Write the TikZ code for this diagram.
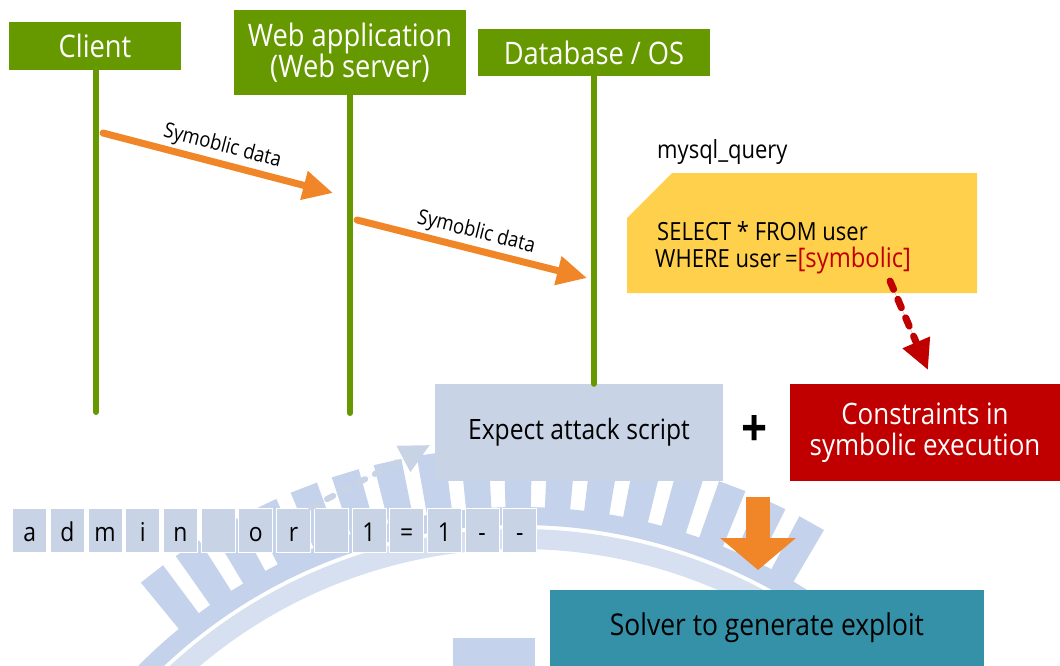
\documentclass[tikz,border=0pt]{standalone}
\usepackage{fontspec}
\setmainfont{Open Sans}[FakeStretch=0.88]
\usetikzlibrary{arrows.meta}

\definecolor{hdrgreen}{RGB}{102,153,0}
\definecolor{flow}{RGB}{240,134,40}
\definecolor{note}{RGB}{255,208,75}
\definecolor{darkred}{RGB}{192,0,0}
\definecolor{paleblue}{RGB}{200,212,230}
\definecolor{solverteal}{RGB}{53,145,168}
\definecolor{wmdark}{RGB}{196,210,235}
\definecolor{wmlight}{RGB}{214,224,241}

\newcommand\setfs[1]{\fontsize{#1}{#1}\selectfont}

\begin{document}
\begin{tikzpicture}[x=1pt,y=-1pt,
  header/.style={fill=hdrgreen, text=white, inner sep=0pt, align=center,
                 font=\fontsize{31}{31}\selectfont},
  lifeline/.style={draw=hdrgreen, line width=6pt, line cap=round},
  flowarrow/.style={draw=flow, line width=7pt, line cap=round,
                    -{Triangle[length=30pt,width=28pt]}},
  flowlabel/.style={font=\setfs{21}, sloped, above, inner sep=3pt},
  dotarrow/.style={line width=7pt, line cap=round, dash pattern=on 9pt off 11pt,
                   -{Triangle[length=30pt,width=28pt]}},
  charbox/.style={fill=paleblue, draw=white, line width=1pt, minimum width=34pt,
                  minimum height=44pt, inner sep=0pt, text height=23pt,
                  text depth=1pt, font=\setfs{26}},
  stepbox/.style={inner sep=0pt, align=center},
  codeline/.style={anchor=base west, inner sep=0pt, font=\setfs{25}}
]
\useasboundingbox (0,0) rectangle (1060,666);
\clip (0,0) rectangle (1060,666);
\fill[white] (0,0) rectangle (1060,666);

% faint emblem in the background
\begin{scope}[shift={(520,1045)}]
  \foreach \a in {-128,-123.8,...,-57} {
    \fill[wmdark] (\a-1.35:536) -- (\a-1.35:598) -- (\a+1.35:598) -- (\a+1.35:536) -- cycle;
  }
  \draw[wmdark, line width=18pt] (-140:529) arc[start angle=-140, end angle=-50, radius=529];
  \draw[wmlight, line width=20pt] (-140:506) arc[start angle=-140, end angle=-50, radius=506];
\end{scope}
\fill[wmdark] (453,638) rectangle (535,666);

% participants
\node[header, minimum width=172pt, minimum height=48pt] (client) at (95,46) {Client};
\node[header, minimum width=232pt, minimum height=85pt] (webapp) at (350,52.5)
  {Web application\\(Web server)};
\node[header, minimum width=232pt, minimum height=47pt] (db) at (594,52.5) {Database / OS};

% result boxes
\node[stepbox, fill=paleblue, minimum width=288pt, minimum height=97pt,
      font=\setfs{28}] (expect) at (579,432.5) {Expect attack script};
\node[stepbox, fill=darkred, text=white, minimum width=271pt, minimum height=97pt,
      font=\fontsize{29.5}{31}\selectfont] (constr) at (925,432.5)
  {Constraints in\\symbolic execution};
\node[stepbox, fill=solverteal, minimum width=434pt, minimum height=76pt,
      font=\setfs{30}] (solver) at (767,628) {Solver to generate exploit};
\node[inner sep=0pt, font=\setfs{52}\bfseries] (plus) at (755,431) {+};

% lifelines
\coordinate (clientEnd) at (96,412);
\coordinate (webEnd) at (350,413);
\draw[lifeline] (client.south -| clientEnd) -- (clientEnd);
\draw[lifeline] (webapp.south) -- (webEnd);
\draw[lifeline] (db.south) -- (db.south |- expect.north);

% symbolic data passed along
\coordinate (m1s) at (103,133);
\coordinate (m1e) at (333,193);
\coordinate (m2s) at (357,220);
\coordinate (m2e) at (587,278);
\draw[flowarrow] (m1s) -- node[flowlabel] {Symoblic data} (m1e);
\draw[flowarrow] (m2s) -- node[flowlabel] {Symoblic data} (m2e);

% query note
\node[codeline] (qname) at (657,158) {mysql\_query};
\fill[note] (627,218) -- (672,173) -- (977,173) -- (977,293) -- (627,293) -- cycle;
\node[codeline] (q1) at (657,240) {SELECT * FROM user};
\node[codeline] (q2) at (655,267)
  {WHERE user\,=\textcolor{darkred}{\fontsize{27}{27}\selectfont[symbolic]}};

\coordinate (symStart) at (890,281);
\coordinate (symEnd) at (928,370);
\draw[dotarrow, draw=darkred, fill=darkred] (symStart) -- (symEnd);

% attack string
\foreach \c [count=\i from 0] in {a,d,m,i,n,{},o,r,{},1,=,1,-,-} {
  \node[charbox] (ch\i) at (12.7+37.7*\i+17, 530) {\c};
}
\coordinate (atkEnd) at (430,445);
\draw[dotarrow, line width=6pt, draw=paleblue, fill=paleblue,
      dash pattern=on 7pt off 11pt] (ch7.north east) -- (atkEnd);

% combine into the solver
\coordinate (downStart) at (758,497);
\coordinate (downEnd) at (758,570);
\draw[draw=flow, line width=24pt, -{Triangle[length=32pt,width=74pt]}] (downStart) -- (downEnd);
\end{tikzpicture}
\end{document}
